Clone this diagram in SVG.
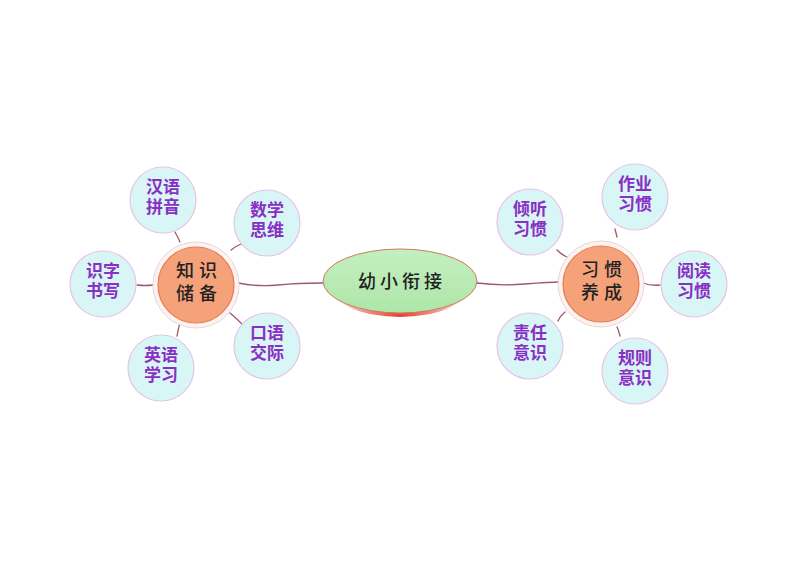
<svg xmlns="http://www.w3.org/2000/svg" width="800" height="569" viewBox="0 0 800 569">
<defs>
<style>
.sat circle{fill:#d8f6f6;stroke:#e6c4e8;stroke-width:1.2}
.sat text{font-family:"Liberation Sans","Noto Sans CJK SC",sans-serif;font-weight:700;font-size:17px;fill:#8a2fc4;text-anchor:middle}
.hub circle.o{fill:#fdf3f0;stroke:#e9d4d8;stroke-width:1}
.hub circle.i{fill:#f5a27b;stroke:#e47c52;stroke-width:1.2}
.hub text{font-family:"Liberation Sans","Noto Sans CJK SC",sans-serif;font-weight:500;font-size:18px;fill:#222;text-anchor:middle;letter-spacing:5px}
.ctr text{font-family:"Liberation Sans","Noto Sans CJK SC",sans-serif;font-weight:500;font-size:18px;fill:#222;text-anchor:middle;letter-spacing:4px}
.conn path{fill:none;stroke:#9a5a6a;stroke-width:1.3;stroke-linecap:round}
</style>
<linearGradient id="eg" x1="0" y1="0" x2="0" y2="1">
<stop offset="0" stop-color="#c4efc0"/>
<stop offset="1" stop-color="#aee6a8"/>
</linearGradient>
<radialGradient id="rg" cx="0.5" cy="1" r="0.6">
<stop offset="0" stop-color="#e02a1a" stop-opacity="0.9"/>
<stop offset="1" stop-color="#e02a1a" stop-opacity="0"/>
</radialGradient>
</defs>
<rect width="800" height="569" fill="#ffffff"/>
<g class="conn">
<path d="M238,283 Q258,287 278,285 T323,283"/>
<path d="M477,283 Q500,286 525,284 T561,282"/>
<path d="M180,242 Q178,237 175,232"/>
<path d="M231,250 Q236,246 241,244"/>
<path d="M137,285 Q145,286 153,285"/>
<path d="M180,323 Q178,330 177,336"/>
<path d="M230,313 Q236,318 242,324"/>
<path d="M557,250 Q562,255 567,257"/>
<path d="M617,237 Q616,233 615,229"/>
<path d="M643,283 Q651,286 660,285"/>
<path d="M565,312 Q560,316 558,321"/>
<path d="M617,327 Q619,331 620,336"/>
</g>
<g id="center" class="ctr">
<ellipse cx="400" cy="285" rx="70" ry="32" fill="url(#rg)"/>
<ellipse cx="400" cy="281" rx="77" ry="32" fill="url(#eg)" stroke="#d07a5a" stroke-width="1"/>
<text x="402" y="288">幼小衔接</text>
</g>
<g id="hub-zhishi" class="hub">
<circle class="o" cx="196" cy="285" r="43"/>
<circle class="i" cx="196" cy="285" r="38"/>
<text x="199" y="277">知识</text>
<text x="199" y="300">储备</text>
</g>
<g id="hub-xiguan" class="hub">
<circle class="o" cx="601" cy="284" r="43"/>
<circle class="i" cx="601" cy="284" r="38"/>
<text x="604" y="276">习惯</text>
<text x="604" y="299">养成</text>
</g>
<g id="n-hanyu" class="sat"><circle cx="163" cy="200" r="33"/><text x="163" y="193">汉语</text><text x="163" y="213">拼音</text></g>
<g id="n-shuxue" class="sat"><circle cx="267" cy="223" r="33"/><text x="267" y="216">数学</text><text x="267" y="236">思维</text></g>
<g id="n-shizi" class="sat"><circle cx="103" cy="284" r="33"/><text x="103" y="277">识字</text><text x="103" y="297">书写</text></g>
<g id="n-yingyu" class="sat"><circle cx="161" cy="368" r="33"/><text x="161" y="361">英语</text><text x="161" y="381">学习</text></g>
<g id="n-kouyu" class="sat"><circle cx="267" cy="346" r="33"/><text x="267" y="339">口语</text><text x="267" y="359">交际</text></g>
<g id="n-qingting" class="sat"><circle cx="530" cy="222" r="33"/><text x="530" y="215">倾听</text><text x="530" y="235">习惯</text></g>
<g id="n-zuoye" class="sat"><circle cx="635" cy="197" r="33"/><text x="635" y="190">作业</text><text x="635" y="210">习惯</text></g>
<g id="n-yuedu" class="sat"><circle cx="694" cy="284" r="33"/><text x="694" y="277">阅读</text><text x="694" y="297">习惯</text></g>
<g id="n-zeren" class="sat"><circle cx="530" cy="346" r="33"/><text x="530" y="339">责任</text><text x="530" y="359">意识</text></g>
<g id="n-guize" class="sat"><circle cx="635" cy="371" r="33"/><text x="635" y="364">规则</text><text x="635" y="384">意识</text></g>
</svg>
